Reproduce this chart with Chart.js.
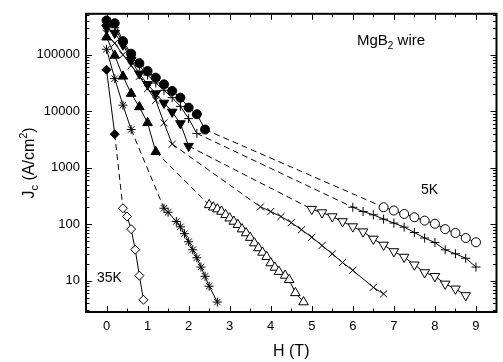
<!DOCTYPE html>
<html>
<head>
<meta charset="utf-8">
<script src="https://cdn.jsdelivr.net/npm/chart.js@4.4.0/dist/chart.umd.min.js"></script>
<style>
  html, body { margin: 0; padding: 0; background: #fff; }
</style>
</head>
<body>
<canvas id="jcChart" width="503" height="362"></canvas>
<script>
// tick labels
const xTickLabels = [0, 1, 2, 3, 4, 5, 6, 7, 8, 9];
const yTickLabels = [10, 100, 1000, 10000, 100000];

// 5K - filled / open circles
const lowH5 = [0, 0.2, 0.4, 0.6, 0.8, 1.0, 1.2, 1.4, 1.6, 1.8, 2.0, 2.2, 2.4];
const lowJ5 = [403000, 361000, 174000, 104000, 71000, 51400, 39300, 29900, 22800, 17400, 11600, 8860, 4750];
const highH5 = [6.75, 7, 7.25, 7.5, 7.75, 8, 8.25, 8.5, 8.75, 9];
const highJ5 = [200, 175, 152, 133, 116, 102, 82, 70, 57, 48];

// 10K - crosses
const lowH10 = [0, 0.2, 0.4, 0.6, 0.8, 1.0, 1.2, 1.4, 1.6, 1.8, 2.0, 2.2];
const lowJ10 = [340000, 300000, 160000, 95000, 64000, 43600, 31600, 23500, 17400, 12200, 7400, 4050];
const highH10 = [6, 6.25, 6.5, 6.75, 7, 7.25, 7.5, 7.75, 8, 8.25, 8.5, 8.75, 9];
const highJ10 = [200, 168, 147, 123, 105, 89, 71.5, 57, 47.5, 35.3, 30, 25, 17.5];

// 15K - down triangles
const lowH15 = [0, 0.2, 0.4, 0.6, 0.8, 1.0, 1.2, 1.4, 1.6, 1.8, 2.0];
const lowJ15 = [300000, 242000, 150000, 80000, 46200, 29900, 20500, 14000, 9730, 6070, 2415];
const highH15 = [5, 5.25, 5.5, 5.75, 6, 6.25, 6.5, 6.75, 7, 7.25, 7.5, 7.75, 8, 8.25, 8.5, 8.75];
const highJ15 = [185, 161, 137, 112, 91, 74, 55, 43, 33, 26.3, 19.2, 14, 12, 8.8, 7.2, 5.5];

// 20K - diagonal crosses
const lowH20 = [0, 0.2, 0.4, 0.6, 0.8, 1.0, 1.2, 1.4, 1.6];
const lowJ20 = [235000, 160000, 100000, 64000, 41400, 25100, 15600, 6220, 2620];
const highH20 = [3.75, 4, 4.25, 4.5, 4.75, 5, 5.25, 5.5, 5.75, 6, 6.5, 6.75];
const highJ20 = [203, 168, 137, 107, 80, 59, 42, 30, 21, 15.3, 7.65, 5.85];

// 25K - up triangles
const lowH25 = [0, 0.2, 0.4, 0.6, 0.8, 1.0, 1.2];
const lowJ25 = [204000, 97000, 41400, 20500, 11900, 6220, 1915];
const highH25 = [2.5, 2.6, 2.7, 2.8, 2.9, 3.0, 3.1, 3.2, 3.3, 3.4, 3.5, 3.6, 3.7, 3.8, 3.9, 4.0, 4.1, 4.2, 4.35, 4.45, 4.6, 4.8];
const highJ25 = [220, 200, 185, 168, 147, 128, 112, 98, 82, 70, 58, 46.5, 38, 31.7, 26.6, 20.6, 17.2, 14.5, 12.4, 10.4, 6.1, 4.2];

// 30K - asterisks
const lowH30 = [0, 0.2, 0.4, 0.6];
const lowJ30 = [125000, 37800, 12800, 4750];
const highH30 = [1.4, 1.5, 1.7, 1.8, 1.9, 2.0, 2.1, 2.2, 2.3, 2.4, 2.5, 2.7];
const highJ30 = [192, 163, 112, 90, 68, 49, 35.4, 25.5, 17.5, 12, 8, 4.2];

// 35K - diamonds
const lowH35 = [0, 0.2];
const lowJ35 = [54300, 3930];
const highH35 = [0.4, 0.5, 0.6, 0.7, 0.8, 0.9];
const highJ35 = [192, 137, 82, 35.5, 12.3, 4.6];

const FONT = '"Liberation Sans", Arial, sans-serif';

// one dataset per temperature: filled markers at low field, open at high field,
// dashed segment between the two parts
function makeSeries(label, lowH, lowJ, highH, highJ, style, radius, rotation) {
    const n = lowH.length;
    const pts = lowH.map((h, i) => ({ x: h, y: lowJ[i] }))
        .concat(highH.map((h, i) => ({ x: h, y: highJ[i] })));
    return {
        label: label,
        data: pts,
        borderColor: '#000',
        borderWidth: 1,
        pointStyle: style,
        pointRadius: radius,
        pointRotation: rotation || 0,
        pointBorderColor: '#000',
        pointBorderWidth: 1,
        pointBackgroundColor: pts.map((p, i) => i < n ? '#000' : '#fff'),
        tension: 0,
        fill: false,
        segment: {
            borderDash: ctx => ctx.p0DataIndex === n - 1 ? [6, 4] : undefined
        }
    };
}

// inward ticks on all four sides, plus frame and text labels
const framePlugin = {
    id: 'frame',
    afterDraw(chart) {
        const { ctx, chartArea: a, scales } = chart;
        const xs = scales.x, ys = scales.y;
        ctx.save();
        ctx.strokeStyle = '#000';
        ctx.lineWidth = 1;

        ctx.beginPath();
        for (let v = -0.5; v <= 9.5; v += 0.5) {
            const px = Math.round(xs.getPixelForValue(v)) + 0.5;
            if (px < a.left + 1 || px > a.right - 1) continue;
            const len = Number.isInteger(v) ? 6 : 3.5;
            ctx.moveTo(px, a.bottom); ctx.lineTo(px, a.bottom - len);
            ctx.moveTo(px, a.top); ctx.lineTo(px, a.top + len);
        }
        for (let e = 0; e <= 5; e++) {
            for (let m = 1; m <= 9; m++) {
                const v = m * Math.pow(10, e);
                if (v < ys.min || v > ys.max) continue;
                const py = Math.round(ys.getPixelForValue(v)) + 0.5;
                const len = m === 1 ? 6 : 3.5;
                ctx.moveTo(a.left, py); ctx.lineTo(a.left + len, py);
                ctx.moveTo(a.right, py); ctx.lineTo(a.right - len, py);
            }
        }
        ctx.stroke();

        ctx.lineWidth = 2;
        ctx.strokeRect(a.left, a.top, a.right - a.left, a.bottom - a.top);

        ctx.fillStyle = '#000';
        ctx.textBaseline = 'alphabetic';

        // axis titles
        ctx.font = '16px ' + FONT;
        ctx.textAlign = 'center';
        ctx.fillText('H (T)', (a.left + a.right) / 2, 356);

        ctx.save();
        ctx.translate(34, (a.top + a.bottom) / 2);
        ctx.rotate(-Math.PI / 2);
        ctx.textAlign = 'left';
        const big = '16px ' + FONT, small = '11px ' + FONT;
        ctx.font = big; const w1 = ctx.measureText('J').width;
        ctx.font = small; const w2 = ctx.measureText('c').width;
        ctx.font = big; const w3 = ctx.measureText(' (A/cm').width;
        ctx.font = small; const w4 = ctx.measureText('2').width;
        ctx.font = big; const w5 = ctx.measureText(')').width;
        let x = -(w1 + w2 + w3 + w4 + w5) / 2;
        ctx.font = big; ctx.fillText('J', x, 0); x += w1;
        ctx.font = small; ctx.fillText('c', x, 4); x += w2;
        ctx.font = big; ctx.fillText(' (A/cm', x, 0); x += w3;
        ctx.font = small; ctx.fillText('2', x, -7); x += w4;
        ctx.font = big; ctx.fillText(')', x, 0);
        ctx.restore();

        // annotations
        ctx.font = '15px ' + FONT;
        ctx.textAlign = 'left';
        let tx = 357;
        ctx.fillText('MgB', tx, 45); tx += ctx.measureText('MgB').width;
        ctx.font = '10px ' + FONT;
        ctx.fillText('2', tx, 49); tx += ctx.measureText('2').width;
        ctx.font = '15px ' + FONT;
        ctx.fillText(' wire', tx, 45);

        ctx.font = '14px ' + FONT;
        ctx.fillText('5K', 421, 194);
        ctx.fillText('35K', 97, 282);
        ctx.restore();
    }
};

new Chart(document.getElementById('jcChart'), {
    type: 'line',
    data: {
        datasets: [
            makeSeries('5K', lowH5, lowJ5, highH5, highJ5, 'circle', 4.5),
            makeSeries('10K', lowH10, lowJ10, highH10, highJ10, 'cross', 4.5),
            makeSeries('15K', lowH15, lowJ15, highH15, highJ15, 'triangle', 5.5, 180),
            makeSeries('20K', lowH20, lowJ20, highH20, highJ20, 'crossRot', 5),
            makeSeries('25K', lowH25, lowJ25, highH25, highJ25, 'triangle', 5.5),
            makeSeries('30K', lowH30, lowJ30, highH30, highJ30, 'star', 4.5),
            makeSeries('35K', lowH35, lowJ35, highH35, highJ35, 'rectRot', 4.5)
        ]
    },
    options: {
        responsive: false,
        animation: false,
        events: [],
        layout: { padding: { top: 13, right: 1, left: 0, bottom: 0 } },
        plugins: {
            legend: { display: false },
            tooltip: { enabled: false }
        },
        scales: {
            x: {
                type: 'linear',
                min: -0.5,
                max: 9.5,
                afterBuildTicks: s => { s.ticks = xTickLabels.map(v => ({ value: v })); },
                afterFit: s => { s.height = 50; },
                grid: { display: false, drawTicks: false },
                border: { display: false },
                ticks: {
                    color: '#000',
                    font: { size: 13, family: FONT },
                    padding: 7,
                    maxRotation: 0,
                    autoSkip: false
                }
            },
            y: {
                type: 'logarithmic',
                min: 2.8,
                max: 530000,
                afterBuildTicks: s => { s.ticks = yTickLabels.map(v => ({ value: v })); },
                afterFit: s => { s.width = 86; },
                grid: { display: false, drawTicks: false },
                border: { display: false },
                ticks: {
                    color: '#000',
                    font: { size: 13, family: FONT },
                    padding: 6,
                    callback: v => String(v)
                }
            }
        }
    },
    plugins: [framePlugin]
});
</script>
</body>
</html>
